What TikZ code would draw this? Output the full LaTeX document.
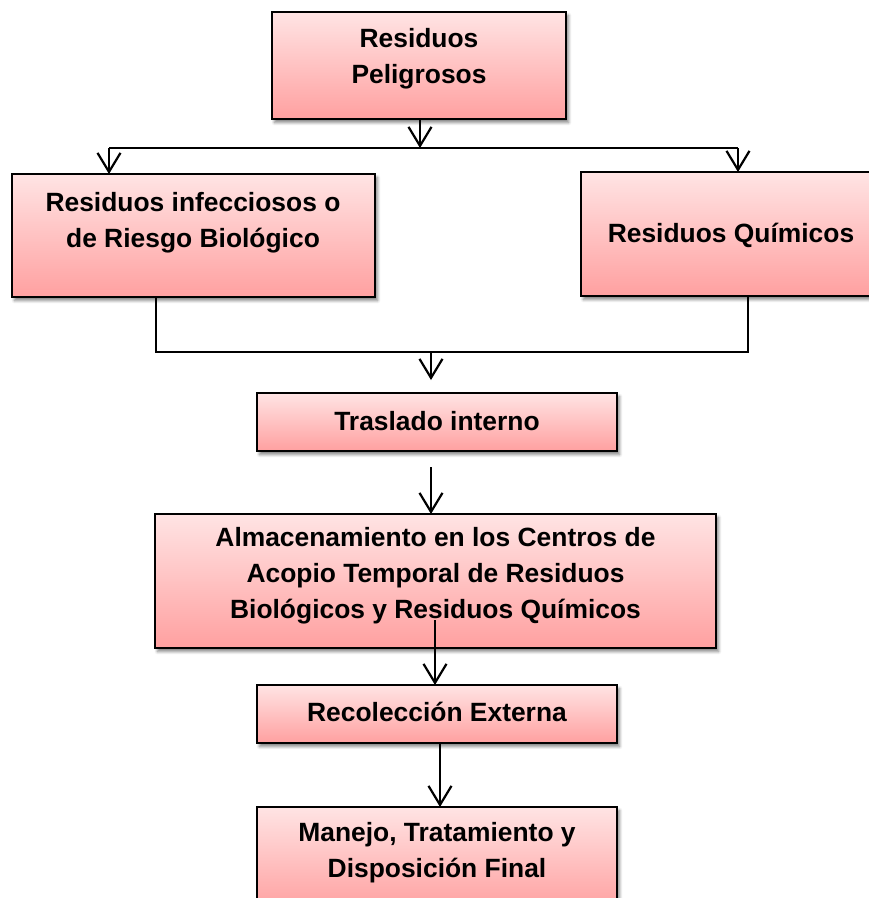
\documentclass[tikz,border=0pt]{standalone}
\usepackage{fontspec}
\setmainfont{Liberation Sans}
\usetikzlibrary{arrows.meta,shadows.blur}
\definecolor{pinkTop}{RGB}{255,228,228}
\definecolor{pinkBot}{RGB}{255,160,160}
\tikzset{
  box/.style={draw=black, line width=1.6pt, rectangle, outer sep=0pt, inner sep=0pt,
    top color=pinkTop, bottom color=pinkBot,
    blur shadow={shadow xshift=2.5pt, shadow yshift=-3.5pt, shadow blur steps=6, shadow blur radius=3pt, shadow opacity=50}},
  lbl/.style={font=\fontsize{26.4}{36}\selectfont\bfseries, align=center, inner sep=0pt, text=black},
  conn/.style={draw=black, line width=2.2pt},
  arr/.style={conn, -{Straight Barb[length=19pt,width=23pt,line width=2.2pt]}},
}
\begin{document}
\begin{tikzpicture}[x=1pt,y=-1pt]
\useasboundingbox (0,0) rectangle (869,898);
% boxes
\node[box, minimum width=294pt, minimum height=107pt] (n1) at (419,65.5) {};
\node[box, minimum width=363pt, minimum height=123pt] (n2) at (193.5,235.5) {};
\node[box, minimum width=294pt, minimum height=124pt] (n3) at (728,234) {};
\node[box, minimum width=360pt, minimum height=58pt] (n4) at (437,422) {};
\node[box, minimum width=561pt, minimum height=134pt] (n5) at (435.5,581) {};
\node[box, minimum width=360pt, minimum height=58pt] (n6) at (437,714) {};
\node[box, minimum width=360pt, minimum height=103pt] (n7) at (437,858.5) {};
% texts
\node[lbl] (t1) at (419,58.3) {Residuos\\Peligrosos};
\node[lbl] (t2) at (193,222.3) {Residuos infecciosos o\\de Riesgo Biológico};
\node[lbl, anchor=base] (t3) at (731,242) {Residuos Químicos};
\node[lbl, anchor=base] (t4) at (437,430) {Traslado interno};
\node[lbl] (t5) at (435.5,576) {Almacenamiento en los Centros de\\Acopio Temporal de Residuos\\Biológicos y Residuos Químicos};
\node[lbl, anchor=base] (t6) at (437,721) {Recolección Externa};
\node[lbl] (t7) at (437,853) {Manejo, Tratamiento y\\Disposición Final};
% connector points
\coordinate (h0) at (420,148);
\coordinate (hL) at (109,148);
\coordinate (hR) at (738,148);
\coordinate (mL) at (156,352);
\coordinate (mR) at (748,352);
\coordinate (mM) at (431,352);
\coordinate (aT) at (431,380);
\coordinate (s4) at (431,467);
\coordinate (s5) at (435,620);
\coordinate (s6) at (440,0);
% connectors
\draw[arr] (h0 |- n1.south) -- (h0);
\draw[conn] (hL) -- (hR);
\draw[arr] (hL) -- (hL |- n2.north);
\draw[arr] (hR) -- (hR |- n3.north);
\draw[conn] (mL |- n2.south) -- (mL) -- (mR) -- (mR |- n3.south);
\draw[arr] (mM) -- (aT);
\draw[arr] (s4) -- (s4 |- n5.north);
\draw[arr] (s5) -- (s5 |- n6.north);
\draw[arr] (s6 |- n6.south) -- (s6 |- n7.north);
\end{tikzpicture}
\end{document}
